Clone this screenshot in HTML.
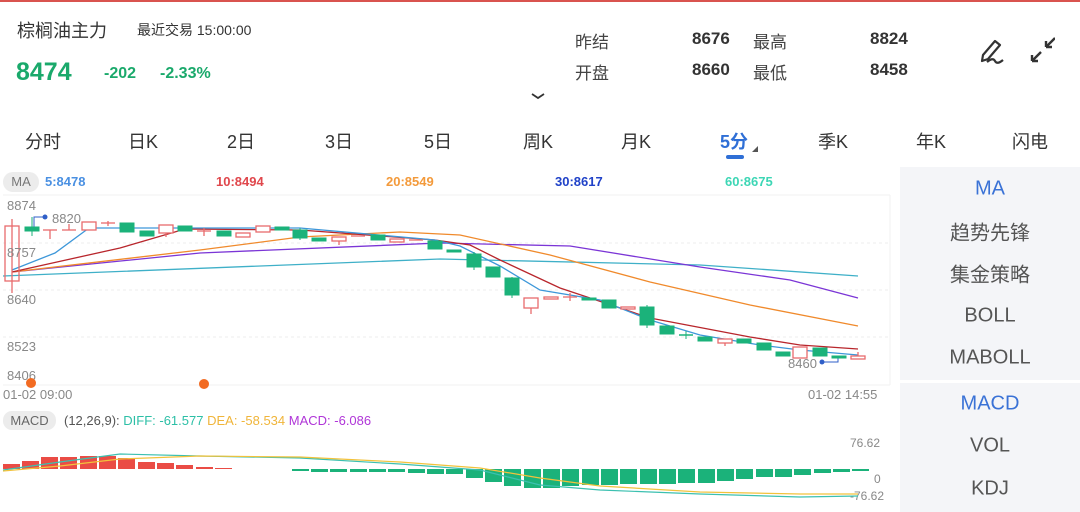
<!DOCTYPE html>
<html><head><meta charset="utf-8"><style>
*{margin:0;padding:0;box-sizing:border-box}
body{width:1080px;height:512px;overflow:hidden;background:#fff;font-family:"Liberation Sans","Noto Sans CJK SC",sans-serif;position:relative;color:#333}
.a{position:absolute;white-space:nowrap}
.tab{position:absolute;top:128px;font-size:18px;color:#333;transform:translateX(-50%)}
.rp{position:absolute;left:900px;width:180px;text-align:center;font-size:20px;color:#555;transform:translateY(-50%)}
</style></head><body>
<div class="a" style="left:0;top:0;width:1080px;height:2px;background:#d9534f"></div>
<div class="a" style="left:17px;top:17px;font-size:18px;color:#333">棕榈油主力</div>
<div class="a" style="left:137px;top:20px;font-size:14px;color:#333">最近交易 15:00:00</div>
<div class="a" style="left:16px;top:58px;font-size:25px;font-weight:bold;color:#1aa96b">8474</div>
<div class="a" style="left:104px;top:65px;font-size:16px;font-weight:bold;color:#1aa96b">-202</div>
<div class="a" style="left:160px;top:65px;font-size:16px;font-weight:bold;color:#1aa96b">-2.33%</div>
<div class="a" style="left:575px;top:28px;font-size:17px;color:#444">昨结</div>
<div class="a" style="left:575px;top:59px;font-size:17px;color:#444">开盘</div>
<div class="a" style="left:692px;top:29px;font-size:17px;font-weight:bold;color:#333">8676</div>
<div class="a" style="left:692px;top:60px;font-size:17px;font-weight:bold;color:#333">8660</div>
<div class="a" style="left:753px;top:28px;font-size:17px;color:#444">最高</div>
<div class="a" style="left:753px;top:59px;font-size:17px;color:#444">最低</div>
<div class="a" style="left:870px;top:29px;font-size:17px;font-weight:bold;color:#333">8824</div>
<div class="a" style="left:870px;top:60px;font-size:17px;font-weight:bold;color:#333">8458</div>
<svg class="a" style="left:975px;top:35px" width="80" height="35" viewBox="0 0 80 35">
<path d="M8 20 L20 6 L25 10 L13 24 L7 26 Z" fill="none" stroke="#333" stroke-width="2.2" stroke-linejoin="round"/>
<path d="M12 27 Q18 22 20 26 Q22 30 28 25" fill="none" stroke="#333" stroke-width="2.2"/>
<path d="M57 26 L66 17 M57 26 L57 20 M57 26 L63 26" stroke="#333" stroke-width="2.4" fill="none"/>
<path d="M80 3 L71 12 M71 12 L71 6 M71 12 L77 12" stroke="#333" stroke-width="2.4" fill="none"/>
</svg>
<svg class="a" style="left:530px;top:92px" width="16" height="8"><path d="M2 2 L8 6 L14 2" stroke="#333" stroke-width="1.8" fill="none"/></svg>
<div class="tab" style="left:43px">分时</div>
<div class="tab" style="left:143px">日K</div>
<div class="tab" style="left:241px">2日</div>
<div class="tab" style="left:339px">3日</div>
<div class="tab" style="left:438px">5日</div>
<div class="tab" style="left:538px">周K</div>
<div class="tab" style="left:636px">月K</div>
<div class="tab" style="left:734px;color:#2f6fd6;font-weight:bold">5分</div>
<div class="a" style="left:726px;top:155px;width:18px;height:4px;border-radius:2px;background:#2f6fd6"></div>
<div class="a" style="left:752px;top:146px;width:0;height:0;border-left:6px solid transparent;border-bottom:6px solid #555"></div>
<div class="tab" style="left:833px">季K</div>
<div class="tab" style="left:931px">年K</div>
<div class="tab" style="left:1030px">闪电</div>

<div class="a" style="left:900px;top:167px;width:180px;height:345px;background:#f4f5f8"></div>
<div class="a" style="left:900px;top:380px;width:180px;height:3px;background:#fff"></div>
<div class="rp" style="top:189px;color:#3a72d6">MA</div>
<div class="rp" style="top:231px">趋势先锋</div>
<div class="rp" style="top:273px">集金策略</div>
<div class="rp" style="top:316px">BOLL</div>
<div class="rp" style="top:358px">MABOLL</div>
<div class="rp" style="top:404px;color:#3a72d6">MACD</div>
<div class="rp" style="top:446px">VOL</div>
<div class="rp" style="top:489px">KDJ</div>

<div class="a" style="left:3px;top:172px;width:36px;height:20px;border-radius:10px;background:#ececec;font-size:13px;color:#777;text-align:center;line-height:20px">MA</div>
<div class="a" style="left:45px;top:174px;font-size:13px;font-weight:bold;color:#4a90e2">5:8478</div>
<div class="a" style="left:216px;top:174px;font-size:13px;font-weight:bold;color:#e0474c">10:8494</div>
<div class="a" style="left:386px;top:174px;font-size:13px;font-weight:bold;color:#f39a3b">20:8549</div>
<div class="a" style="left:555px;top:174px;font-size:13px;font-weight:bold;color:#2042c8">30:8617</div>
<div class="a" style="left:725px;top:174px;font-size:13px;font-weight:bold;color:#3dd6b5">60:8675</div>

<svg class="a" style="left:0;top:0" width="900" height="512">
<g stroke="#eee" stroke-dasharray="3,3">
<line x1="3" y1="243" x2="890" y2="243"/><line x1="3" y1="290" x2="890" y2="290"/><line x1="3" y1="337" x2="890" y2="337"/>
</g>
<line x1="3" y1="195" x2="890" y2="195" stroke="#f2f2f2"/>
<line x1="3" y1="385" x2="890" y2="385" stroke="#f2f2f2"/>
<line x1="890" y1="195" x2="890" y2="385" stroke="#f2f2f2"/>
<path d="M34 227 V217 H45" stroke="#2f5fc8" fill="none"/><circle cx="45" cy="217" r="2.5" fill="#2f5fc8"/>
<path d="M822 362 H838 V358" stroke="#2f5fc8" fill="none"/><circle cx="822" cy="362" r="2.5" fill="#2f5fc8"/>
<g fill="none" stroke-width="1.3">
<polyline stroke="#3fb0c8" points="3,276 440,259 700,265 858,276"/>
<polyline stroke="#7b35d6" points="12,272 200,253 440,243 570,246 700,267 790,280 858,298"/>
<polyline stroke="#f08a2c" points="12,272 200,250 300,237 400,232 460,235 550,255 650,282 750,305 858,326"/>
<polyline stroke="#b8262c" points="12,272 120,248 185,229 300,230 435,240 470,245 500,260 560,288 650,318 750,337 800,345 858,349"/>
<polyline stroke="#3d97d9" points="12,270 55,253 89,228 300,228 435,240 460,246 500,266 540,290 600,300 650,320 700,335 760,345 800,350 858,355"/>
</g>
<g stroke="#e86b6d" fill="#fff" stroke-width="1.3">
<line x1="12" y1="219" x2="12" y2="293"/><rect x="5" y="226" width="14" height="55" fill="none"/>
<line x1="43" y1="230" x2="57" y2="230"/><line x1="50" y1="230" x2="50" y2="239"/>
<line x1="62" y1="230" x2="76" y2="230"/><line x1="69" y1="224" x2="69" y2="230"/>
<rect x="82" y="222" width="14" height="8"/>
<line x1="101" y1="223" x2="115" y2="223"/><line x1="108" y1="221" x2="108" y2="226"/>
<line x1="166" y1="225" x2="166" y2="237"/><rect x="159" y="225" width="14" height="8"/>
<rect x="236" y="233" width="14" height="4"/>
<rect x="256" y="226" width="14" height="6"/>
<line x1="339" y1="237" x2="339" y2="245"/><rect x="332" y="237" width="14" height="4"/>
<rect x="390" y="239" width="14" height="3"/>
<line x1="531" y1="298" x2="531" y2="314"/><rect x="524" y="298" width="14" height="10"/>
<rect x="544" y="297" width="14" height="2"/>
<line x1="563" y1="297" x2="577" y2="297"/><line x1="570" y1="293" x2="570" y2="301"/>
<rect x="621" y="307" width="14" height="2"/>
<line x1="725" y1="339" x2="725" y2="346"/><rect x="718" y="339" width="14" height="4"/>
<rect x="793" y="347" width="14" height="11"/>
<rect x="851" y="356" width="14" height="3"/><line x1="858" y1="352" x2="858" y2="356"/>
<line x1="197" y1="231" x2="211" y2="231"/><line x1="204" y1="228" x2="204" y2="236"/>
<line x1="351" y1="236" x2="365" y2="236"/>
<line x1="409" y1="240" x2="423" y2="240"/>
</g>
<g fill="#1bb27a" stroke="#1bb27a" stroke-width="1">
<line x1="32" y1="217" x2="32" y2="236"/><rect x="25" y="227" width="14" height="4"/>
<rect x="120" y="223" width="14" height="9"/>
<rect x="140" y="231" width="14" height="5"/>
<rect x="178" y="226" width="14" height="5"/>
<rect x="217" y="231" width="14" height="5"/>
<rect x="275" y="227" width="14" height="3"/>
<line x1="300" y1="228" x2="300" y2="240"/><rect x="293" y="230" width="14" height="8"/>
<rect x="312" y="238" width="14" height="3"/>
<rect x="371" y="235" width="14" height="5"/>
<rect x="428" y="241" width="14" height="8"/>
<rect x="447" y="250" width="14" height="2"/>
<line x1="474" y1="252" x2="474" y2="270"/><rect x="467" y="254" width="14" height="13"/>
<rect x="486" y="267" width="14" height="10"/>
<line x1="512" y1="277" x2="512" y2="298"/><rect x="505" y="278" width="14" height="17"/>
<rect x="582" y="298" width="14" height="2"/>
<rect x="602" y="300" width="14" height="8"/>
<line x1="647" y1="305" x2="647" y2="328"/><rect x="640" y="307" width="14" height="18"/>
<rect x="660" y="326" width="14" height="8"/>
<line x1="679" y1="335" x2="693" y2="335" stroke-width="1.5"/><line x1="686" y1="331" x2="686" y2="339"/>
<rect x="698" y="337" width="14" height="4"/>
<rect x="737" y="339" width="14" height="4"/>
<rect x="757" y="343" width="14" height="7"/>
<rect x="776" y="352" width="14" height="4"/>
<rect x="813" y="348" width="14" height="8"/>
<rect x="832" y="356" width="14" height="2"/>
</g>
<g font-size="13" fill="#888">
<text x="7" y="210">8874</text><text x="7" y="257">8757</text><text x="7" y="304">8640</text><text x="7" y="351">8523</text><text x="7" y="380">8406</text>
<text x="3" y="399">01-02 09:00</text><text x="808" y="399">01-02 14:55</text>
<text x="52" y="223">8820</text><text x="788" y="368">8460</text>
<text x="850" y="447" font-size="12">76.62</text><text x="874" y="483" font-size="12">0</text><text x="850" y="500" font-size="12">-76.62</text>
</g>
<circle cx="31" cy="383" r="5" fill="#f26b22"/><circle cx="204" cy="384" r="5" fill="#f26b22"/>
<g fill="#ea4c45">
<rect x="3" y="464" width="17" height="5"/><rect x="22" y="461" width="17" height="8"/><rect x="41" y="457" width="17" height="12"/><rect x="60" y="457" width="17" height="12"/><rect x="80" y="456" width="17" height="13"/><rect x="99" y="456" width="17" height="13"/><rect x="118" y="458" width="17" height="11"/><rect x="138" y="462" width="17" height="7"/><rect x="157" y="463" width="17" height="6"/><rect x="176" y="465" width="17" height="4"/><rect x="196" y="467" width="17" height="2"/><rect x="215" y="468" width="17" height="1"/>
</g>
<g fill="#1bb27a">
<rect x="292" y="469" width="17" height="2"/><rect x="311" y="469" width="17" height="3"/><rect x="330" y="469" width="17" height="3"/><rect x="350" y="469" width="17" height="3"/><rect x="369" y="469" width="17" height="3"/><rect x="388" y="469" width="17" height="3"/><rect x="408" y="469" width="17" height="4"/><rect x="427" y="469" width="17" height="5"/><rect x="446" y="469" width="17" height="5"/><rect x="466" y="469" width="17" height="9"/><rect x="485" y="469" width="17" height="13"/><rect x="504" y="469" width="17" height="17"/><rect x="524" y="469" width="17" height="19"/><rect x="543" y="469" width="17" height="19"/><rect x="562" y="469" width="17" height="17"/><rect x="582" y="469" width="17" height="16"/><rect x="601" y="469" width="17" height="16"/><rect x="620" y="469" width="17" height="15"/><rect x="640" y="469" width="17" height="15"/><rect x="659" y="469" width="17" height="15"/><rect x="678" y="469" width="17" height="14"/><rect x="698" y="469" width="17" height="14"/><rect x="717" y="469" width="17" height="12"/><rect x="736" y="469" width="17" height="10"/><rect x="756" y="469" width="17" height="8"/><rect x="775" y="469" width="17" height="8"/><rect x="794" y="469" width="17" height="6"/><rect x="814" y="469" width="17" height="4"/><rect x="833" y="469" width="17" height="3"/><rect x="852" y="469" width="17" height="2"/>
</g>
<g fill="none" stroke-width="1.2">
<polyline stroke="#3cc0b0" points="3,470 60,462 120,454 200,456 300,458 400,464 480,470 540,485 600,490 700,494 800,497 858,496"/>
<polyline stroke="#f2c23c" points="3,471 60,466 120,459 200,456 300,457 400,462 480,468 540,478 600,486 700,492 800,494 858,494"/>
</g>
</svg>
<div class="a" style="left:3px;top:411px;width:53px;height:19px;border-radius:9px;background:#ececec;font-size:13px;color:#666;text-align:center;line-height:19px">MACD</div>
<div class="a" style="left:64px;top:413px;font-size:13px;color:#555">(12,26,9): <span style="color:#2cbfa6">DIFF: -61.577</span> <span style="color:#f0b53a">DEA: -58.534</span> <span style="color:#b036d8">MACD: -6.086</span></div>
</body></html>
